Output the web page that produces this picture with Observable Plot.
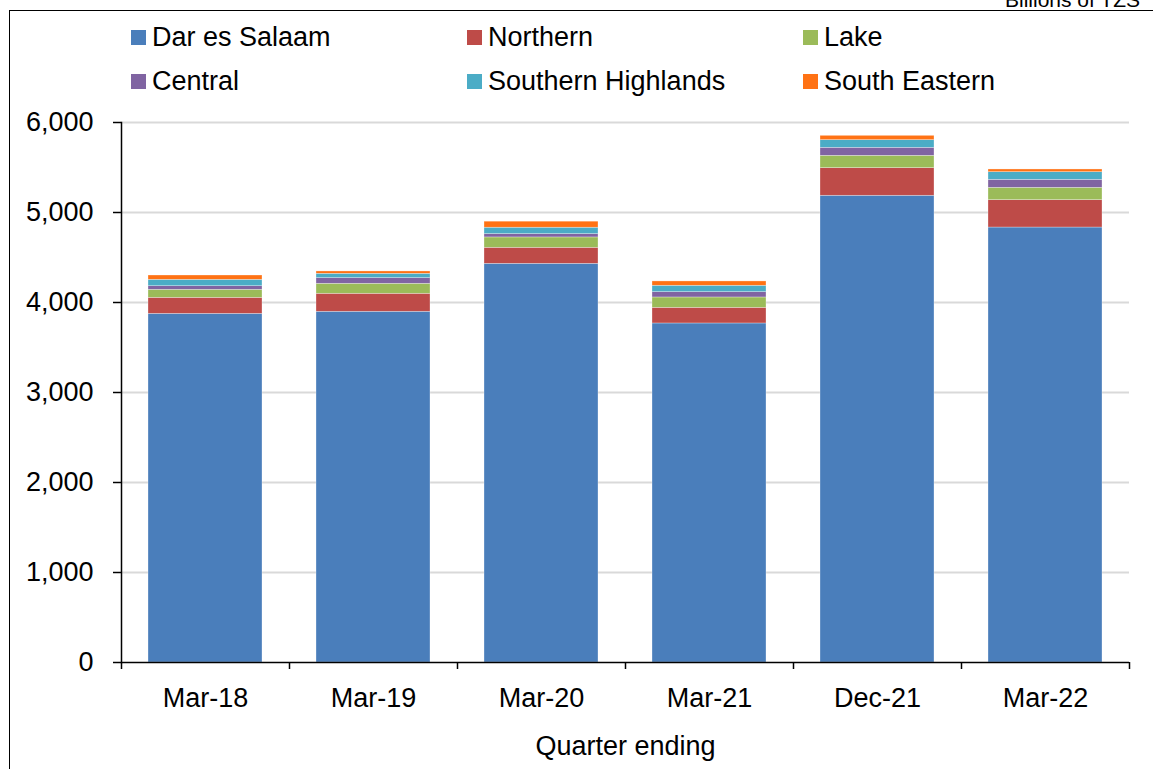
<!DOCTYPE html>
<html>
<head>
<meta charset="utf-8">
<script src="https://cdn.jsdelivr.net/npm/d3@7"></script>
<script src="https://cdn.jsdelivr.net/npm/@observablehq/plot@0.6"></script>
<style>
  html, body { margin: 0; padding: 0; background: #fff; overflow: hidden; }
  #wrap { position: relative; width: 1153px; height: 769px; font-family: "Liberation Sans", Arial, sans-serif; overflow: hidden; }
  #frame { position: absolute; left: 9px; top: 10px; width: 1200px; height: 800px; border: 1.5px solid #000; box-sizing: border-box; }
  #unit { position: absolute; left: 1005px; top: -12px; font-size: 21px; color: #000; white-space: nowrap; }
  #legend { position: absolute; left: 0; top: 0; }
  .li { position: absolute; display: flex; align-items: center; font-size: 27px; color: #000; white-space: nowrap; height: 30px; }
  .sw { width: 15px; height: 15px; margin-right: 6px; }
  #chart { position: absolute; left: 0; top: 0; }
</style>
</head>
<body>
<div id="wrap">
  <div id="frame"></div>
  <div id="unit">Billions of TZS</div>
  <div id="chart"></div>
  <div id="legend"></div>
</div>
<script>
const quarters = ["Mar-18", "Mar-19", "Mar-20", "Mar-21", "Dec-21", "Mar-22"];
const regions = ["Dar es Salaam", "Northern", "Lake", "Central", "Southern Highlands", "South Eastern"];
const colors = ["#4A7EBB", "#BE4B48", "#9BBB59", "#8064A2", "#4BACC6", "#FF7214"];

const darEsSalaam      = [3874, 3897, 4430, 3767, 5186, 4833];
const northern         = [178, 200, 178, 174, 307, 304];
const lake             = [89, 111, 115, 115, 137, 137];
const central          = [40, 63, 37, 59, 89, 89];
const southernHighlands= [71, 48, 71, 71, 85, 85];
const southEastern     = [48, 26, 67, 48, 48, 30];

const yTicks = [0, 1000, 2000, 3000, 4000, 5000, 6000];
const gridTicks = [1000, 2000, 3000, 4000, 5000, 6000];
const xLabel = "Quarter ending";

const series = [darEsSalaam, northern, lake, central, southernHighlands, southEastern];
const data = [];
quarters.forEach((q, i) => {
  regions.forEach((r, j) => data.push({quarter: q, region: r, value: series[j][i]}));
});

const W = 1153, H = 769;
const mL = 121, mR = 24, mT = 122, mB = 107;
const bandHalf = (W - mL - mR) / quarters.length / 2;
const font = "Liberation Sans, Arial, sans-serif";

const chart = Plot.plot({
  width: W, height: H,
  marginLeft: mL, marginRight: mR, marginTop: mT, marginBottom: mB,
  style: {fontFamily: font, background: "transparent", color: "#000"},
  x: {type: "band", domain: quarters, padding: 0, axis: null},
  y: {domain: [0, 6000], axis: null},
  color: {domain: regions, range: colors},
  marks: [
    Plot.ruleY(gridTicks, {stroke: "#d9d9d9", strokeWidth: 2}),
    Plot.barY(data, {
      x: "quarter", y: "value", fill: "region", order: regions,
      insetLeft: 27, insetRight: 27,
      stroke: "#ffffff", strokeWidth: 0.6, strokeOpacity: 0.5
    }),
    Plot.frame({anchor: "left", stroke: "#000", strokeWidth: 1.5}),
    Plot.ruleY([0], {stroke: "#000", strokeWidth: 1.5}),
    Plot.ruleX(quarters, {x: d => d, y1: 0, y2: 0, dx: -bandHalf, insetBottom: -7, stroke: "#000", strokeWidth: 1.5}),
    Plot.ruleX(quarters.slice(-1), {x: d => d, y1: 0, y2: 0, dx: bandHalf, insetBottom: -7, stroke: "#000", strokeWidth: 1.5}),
    Plot.axisY({ticks: yTicks, tickFormat: d3.format(","), tickSize: 8, tickPadding: 20, fontSize: 27, label: null, strokeWidth: 1.5}),
    Plot.axisX({tickSize: 0, tickPadding: 25, fontSize: 27, label: null}),
    Plot.text([xLabel], {frameAnchor: "bottom", dy: 84, fontSize: 27, lineAnchor: "middle", fill: "#000"})
  ]
});
document.getElementById("chart").appendChild(chart);

// legend
const legend = document.getElementById("legend");
const colX = [131, 467, 803];
const rowY = [37, 81];
regions.forEach((r, i) => {
  const el = document.createElement("div");
  el.className = "li";
  el.style.left = colX[i % 3] + "px";
  el.style.top = (rowY[Math.floor(i / 3)] - 15) + "px";
  const sw = document.createElement("span");
  sw.className = "sw";
  sw.style.background = colors[i];
  el.appendChild(sw);
  el.appendChild(document.createTextNode(r));
  legend.appendChild(el);
});
</script>
</body>
</html>
